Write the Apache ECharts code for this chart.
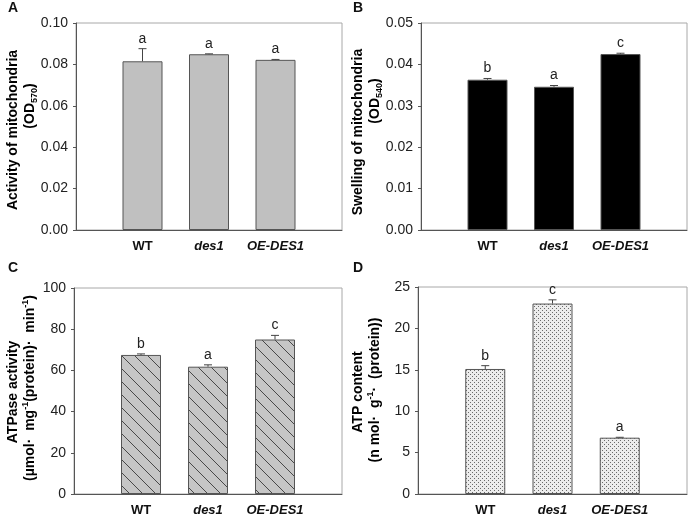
<!DOCTYPE html>
<html>
<head>
<meta charset="utf-8">
<script src="https://cdn.jsdelivr.net/npm/echarts@6/dist/echarts.min.js"></script>
<style>
  html, body { margin: 0; background: #fff; }
  #chart { width: 690px; height: 517px; }
</style>
</head>
<body>
<div id="chart"></div>
<script>
// genotypes on every x axis
const genotypes = ['WT', 'des1', 'OE-DES1'];

// A: activity of mitochondria (OD570)
const activityMean = [0.0815, 0.0849, 0.0822];
const activityErr = [0.0061, 0.0002, 0.0002];
const activityLetters = ['a', 'a', 'a'];

// B: swelling of mitochondria (OD540)
const swellingMean = [0.0363, 0.0346, 0.0425];
const swellingErr = [0.0003, 0.0003, 0.0002];
const swellingLetters = ['b', 'a', 'c'];

// C: ATPase activity
const atpaseMean = [67.5, 61.8, 75.0];
const atpaseErr = [0.5, 0.9, 2.0];
const atpaseLetters = ['b', 'a', 'c'];

// D: ATP content
const atpMean = [15.1, 23.0, 6.8];
const atpErr = [0.4, 0.45, 0.05];
const atpLetters = ['b', 'c', 'a'];

// y axis ranges: [min, max, step]
const activityScale = [0, 0.1, 0.02];
const swellingScale = [0, 0.05, 0.01];
const atpaseScale = [0, 100, 20];
const atpScale = [0, 25, 5];

const FONT = '"Liberation Sans", Arial, sans-serif';
const AXIS_COLOR = '#555';

// padded category list so bars sit on the inner ticks
const xCats = [''].concat(genotypes, ['']);

function makeHatch() {
    const c = document.createElement('canvas');
    c.width = 13; c.height = 13;
    const ctx = c.getContext('2d');
    ctx.fillStyle = '#c6c6c6';
    ctx.fillRect(0, 0, 13, 13);
    ctx.strokeStyle = '#3a3a3a';
    ctx.lineWidth = 0.9;
    ctx.beginPath();
    ctx.moveTo(-1, -1); ctx.lineTo(14, 14);
    ctx.stroke();
    return c;
}

function makeDots() {
    const c = document.createElement('canvas');
    c.width = 4; c.height = 4;
    const ctx = c.getContext('2d');
    ctx.fillStyle = '#ececec';
    ctx.fillRect(0, 0, 4, 4);
    ctx.fillStyle = '#6a6a6a';
    ctx.fillRect(0, 0, 1, 1);
    ctx.fillRect(2, 2, 1, 1);
    return c;
}

const panels = [
    { mean: activityMean, err: activityErr, letters: activityLetters, scale: activityScale, digits: 2,
      grid: { left: 76, top: 23, width: 266, height: 207 },
      fill: '#c0c0c0' },
    { mean: swellingMean, err: swellingErr, letters: swellingLetters, scale: swellingScale, digits: 2,
      grid: { left: 421, top: 23, width: 266, height: 207 },
      fill: '#000' },
    { mean: atpaseMean, err: atpaseErr, letters: atpaseLetters, scale: atpaseScale, digits: 0,
      grid: { left: 74, top: 288, width: 268, height: 207 },
      fill: { image: makeHatch(), repeat: 'repeat' } },
    { mean: atpMean, err: atpErr, letters: atpLetters, scale: atpScale, digits: 0,
      grid: { left: 418, top: 287, width: 269, height: 208 },
      fill: { image: makeDots(), repeat: 'repeat' } }
];

const grids = [], xAxes = [], yAxes = [], series = [];

panels.forEach((p, i) => {
    grids.push(Object.assign({ show: true, borderColor: '#a8a8a8', borderWidth: 1, containLabel: false }, p.grid));

    xAxes.push({
        type: 'category',
        gridIndex: i,
        data: xCats,
        boundaryGap: false,
        axisLine: { lineStyle: { color: AXIS_COLOR, width: 1 } },
        axisTick: { show: false },
        splitLine: { show: false },
        axisLabel: {
            interval: 0,
            margin: 10,
            formatter: v => v === '' ? '' : (v === 'WT' ? '{n|' + v + '}' : '{i|' + v + '}'),
            rich: {
                n: { fontFamily: FONT, fontSize: 13, fontWeight: 'bold', color: '#111' },
                i: { fontFamily: FONT, fontSize: 13, fontWeight: 'bold', fontStyle: 'italic', color: '#111' }
            }
        }
    });

    yAxes.push({
        type: 'value',
        gridIndex: i,
        min: p.scale[0],
        max: p.scale[1],
        interval: p.scale[2],
        axisLine: { show: true, lineStyle: { color: AXIS_COLOR, width: 1 } },
        axisTick: { show: true, length: 3, lineStyle: { color: AXIS_COLOR } },
        splitLine: { show: false },
        axisLabel: {
            fontFamily: FONT, fontSize: 14, color: '#222', margin: 8,
            formatter: v => v.toFixed(p.digits)
        }
    });

    series.push({
        type: 'bar',
        xAxisIndex: i,
        yAxisIndex: i,
        barWidth: 40,
        data: ['-'].concat(p.mean, ['-']),
        itemStyle: { color: p.fill, borderColor: '#555', borderWidth: 1 },
        silent: true,
        z: 2
    });

    series.push({
        type: 'custom',
        xAxisIndex: i,
        yAxisIndex: i,
        data: p.mean.map((m, k) => [k + 1, m, p.err[k]]),
        z: 3,
        renderItem: function (params, api) {
            const x = api.value(0);
            const m = api.value(1);
            const e = api.value(2);
            const base = api.coord([x, m]);
            const top = api.coord([x, m + e]);
            return {
                type: 'group',
                children: [
                    { type: 'line', shape: { x1: base[0], y1: base[1], x2: top[0], y2: top[1] },
                      style: { stroke: '#444', lineWidth: 1 } },
                    { type: 'line', shape: { x1: top[0] - 4, y1: top[1], x2: top[0] + 4, y2: top[1] },
                      style: { stroke: '#444', lineWidth: 1 } },
                    { type: 'text', x: top[0], y: top[1] - 3,
                      style: { text: p.letters[params.dataIndex], font: '14px ' + FONT, fill: '#222',
                               align: 'center', verticalAlign: 'bottom' } }
                ]
            };
        }
    });
});

const boldRich = {
    b: { fontFamily: FONT, fontSize: 14, fontWeight: 'bold', color: '#111', lineHeight: 18 },
    sub: { fontFamily: FONT, fontSize: 9, fontWeight: 'bold', color: '#111', lineHeight: 18, verticalAlign: 'bottom' },
    sup: { fontFamily: FONT, fontSize: 9, fontWeight: 'bold', color: '#111', lineHeight: 18, verticalAlign: 'top' }
};

function vText(x, y, text) {
    return {
        type: 'text', x: x, y: y, rotation: Math.PI / 2,
        style: { text: text, rich: boldRich, align: 'center', verticalAlign: 'middle' }
    };
}

function panelLetter(x, y, t) {
    return {
        type: 'text', x: x, y: y,
        style: { text: t, font: 'bold 14px ' + FONT, fill: '#111', align: 'center', verticalAlign: 'middle' }
    };
}

const graphics = [
    panelLetter(13, 8, 'A'),
    panelLetter(358, 8, 'B'),
    panelLetter(13, 268, 'C'),
    panelLetter(358, 268, 'D'),
    vText(13, 130, '{b|Activity of mitochondria}'),
    vText(30, 106, '{b|(OD}{sub|570}{b|)}'),
    vText(358, 132, '{b|Swelling of mitochondria}'),
    vText(375, 101, '{b|(OD}{sub|540}{b|)}'),
    vText(13, 392, '{b|ATPase activity}'),
    vText(30, 388, '{b|(µmol·  mg}{sup|-1}{b|(protein)·  min}{sup|-1}{b|)}'),
    vText(358, 392, '{b|ATP content}'),
    vText(375, 390, '{b|(n mol·  g}{sup|-1}{b|·  (protein))}')
];

const chart = echarts.init(document.getElementById('chart'));
chart.setOption({
    animation: false,
    backgroundColor: '#fff',
    grid: grids,
    xAxis: xAxes,
    yAxis: yAxes,
    series: series,
    graphic: graphics
});
</script>
</body>
</html>
